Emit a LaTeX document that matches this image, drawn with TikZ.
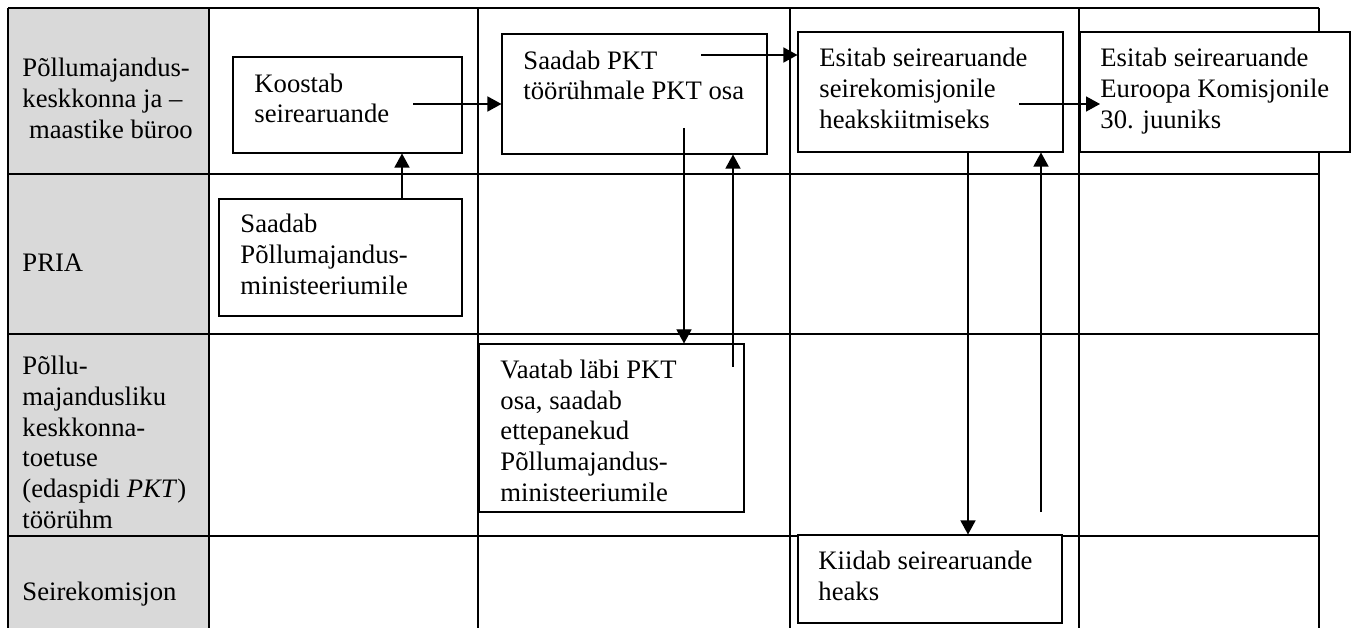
\documentclass[tikz,border=0pt]{standalone}
\usepackage{fontspec}
\setmainfont{Liberation Serif}
\usetikzlibrary{arrows.meta,fit}
\definecolor{headgray}{RGB}{217,217,217}
\tikzset{
  box/.style={draw, fill=white, line width=0.5pt, inner sep=0pt},
  txt/.style={anchor=base west, inner sep=0pt, align=left, font=\fontsize{12}{13.8}\selectfont},
  arr/.style={-{Triangle[length=6.3pt,width=6.8pt]}, line width=0.5pt},
  grid/.style={line width=0.7pt}
}

\begin{document}
\begin{tikzpicture}[x=0.45pt,y=0.45pt,yscale=-1,xscale=1]
\useasboundingbox (0,0) rectangle (1355,628);

%Shape: Rectangle (head column)
\fill[headgray] (8,8) rectangle (209,628);
%Straight Lines (table)
\foreach \y in {8,174,334,536} \draw[grid] (8,\y) -- (1319,\y);
\foreach \x in {8,209,478,790,1079,1319} \draw[grid] (\x,8) -- (\x,628);

%Shape: Rectangle
\node[box, fit={(233,57) (462,153)}] (koostab) {};
%Shape: Rectangle
\node[box, fit={(219,199) (462,316)}] (pria) {};
%Shape: Rectangle
\node[box, fit={(502,34) (767,154)}] (saadab) {};
%Shape: Rectangle
\node[box, fit={(798,32) (1063,152)}] (esitab) {};
%Shape: Rectangle
\node[box, fit={(1080,32) (1350,152)}] (euroopa) {};
%Shape: Rectangle
\node[box, fit={(479,344) (744,512)}] (vaatab) {};
%Shape: Rectangle
\node[box, fit={(798,535) (1062,623)}] (kiidab) {};

%Straight Lines
\coordinate (k1) at (413,104);
\draw[arr] (k1) -- (saadab.west |- k1);
%Straight Lines
\draw[arr] (pria.north -| 402,0) -- (koostab.south -| 402,0);
%Straight Lines
\coordinate (s1) at (701,55);
\draw[arr] (s1) -- (esitab.west |- s1);
%Straight Lines
\coordinate (e1) at (1019,104);
\coordinate (e2) at (1100,104);
\draw[arr] (e1) -- (e2);
%Straight Lines
\coordinate (s2) at (684,128);
\draw[arr] (s2) -- (vaatab.north -| s2);
%Straight Lines
\coordinate (v1) at (733,367);
\draw[arr] (v1) -- (saadab.south -| v1);
%Straight Lines
\draw[arr] (esitab.south -| 968,0) -- (kiidab.north -| 968,0);
%Straight Lines
\coordinate (k2) at (1041,512);
\draw[arr] (k2) -- (esitab.south -| k2);

% Text Node (base = last line)
\node[txt] (buroo) at (22,138.3) {Põllumajandus-\\keskkonna ja –\\\hspace*{3pt}maastike büroo};
% Text Node
\node[txt] (priahead) at (22,272) {PRIA};
% Text Node
\node[txt] (pkthead) at (22,528.3) {Põllu-\\majandusliku\\keskkonna-\\toetuse\\(edaspidi \textit{PKT})\\töörühm};
% Text Node
\node[txt] (seirehead) at (22,600) {Seirekomisjon};
% Text Node
\node[txt] (koostabtxt) at (254,122.7) {Koostab\\seirearuande};
% Text Node
\node[txt] (priatxt) at (240,294.3) {Saadab\\Põllumajandus-\\ministeeriumile};
% Text Node
\node[txt] (saadabtxt) at (523,99.7) {Saadab PKT\\töörühmale PKT osa};
% Text Node
\node[txt] (esitabtxt) at (819,128.3) {Esitab seirearuande\\seirekomisjonile\\heakskiitmiseks};
% Text Node
\node[txt] (euroopatxt) at (1100,128.3) {Esitab seirearuande\\Euroopa Komisjonile\\30. juuniks};
% Text Node
\node[txt] (vaatabtxt) at (500,501) {Vaatab läbi PKT\\osa, saadab\\ettepanekud\\Põllumajandus-\\ministeeriumile};
% Text Node
\node[txt] (kiidabtxt) at (818,600) {Kiidab seirearuande\\heaks};

\end{tikzpicture}
\end{document}
